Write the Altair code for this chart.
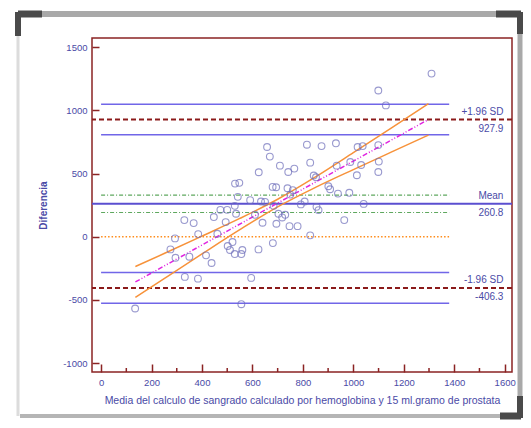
import altair as alt
import pandas as pd

# ---- data ----
pt_x = [1099, 1129, 1310, 658, 669, 816, 874, 931, 1017, 1037, 1099, 625, 709, 742, 766, 829,
        843, 852, 934, 988, 1031, 1014, 1101, 1099, 531, 548, 680, 694, 739, 760, 750, 901,
        908, 939, 984, 542, 591, 634, 650, 530, 684, 792, 807, 854, 862, 1041, 473, 500,
        535, 447, 330, 367, 494, 610, 703, 730, 964, 640, 695, 747, 779, 718, 293, 385,
        461, 829, 275, 295, 350, 416, 438, 521, 502, 511, 530, 560, 556, 624, 681, 332,
        384, 595, 556, 135]
pt_y = [1158, 1040, 1292, 711, 635, 729, 718, 740, 711, 718, 726, 511, 563, 513, 540, 587,
        485, 471, 563, 592, 568, 487, 595, 513, 421, 427, 395, 392, 384, 369, 334, 400,
        376, 342, 348, 316, 290, 279, 276, 245, 245, 256, 279, 237, 211, 260, 213, 213,
        182, 156, 132, 108, 116, 174, 182, 174, 132, 111, 103, 84, 84, 153, -13, 21,
        24, 11, -100, -166, -158, -147, -208, -42, -73, -105, -137, -105, -137, -100, -50, -318,
        -332, -326, -534, -568]

mean_val = 260.8
loa_vals = [927.9, -406.3]
mean_ci = [192, 330]
loa_ci = [808, 1050, -526, -284]
seg_start = 0
seg_end = 1380

reg_x = [136, 1298]
reg_y = [-358, 929]
ci_x = [136, 250, 400, 550, 700, 850, 1000, 1150, 1298]
ci_up = [-236, -133, 5, 145, 297, 474, 666, 861, 1054]
ci_lo = [-480, -331, -136, 56, 237, 391, 532, 670, 805]

x_ticks = [0, 200, 400, 600, 800, 1000, 1200, 1400, 1600]
x_minor = [100, 300, 500, 700, 900, 1100, 1300, 1500]
y_ticks = [-1000, -500, 0, 500, 1000, 1500]

labels_txt = ["+1.96 SD", "927.9", "Mean", "260.8", "-1.96 SD", "-406.3"]
labels_y = [927.9, 927.9, 260.8, 260.8, -406.3, -406.3]
labels_above = [True, False, True, False, True, False]

# ---- styling ----
W, H = 420, 334
FRAME = "#8b2323"
TXT = "#4a4aa6"
FONT = "Liberation Sans"

xs = alt.Scale(domain=[-36, 1629], nice=False, zero=False)
ys = alt.Scale(domain=[-1071, 1574], nice=False, zero=False)

x_axis = alt.Axis(values=x_ticks, title="Media del calculo de sangrado calculado por hemoglobina y 15 ml.gramo de prostata",
                  grid=False, domain=False, tickSize=8, offset=-8, tickColor=FRAME, tickWidth=1.5,
                  labelColor=TXT, labelFont=FONT, labelFontSize=9.5, labelPadding=5,
                  labelExpr="'' + datum.value",
                  titleColor=TXT, titleFont=FONT, titleFontSize=10.5, titleFontWeight="normal",
                  titlePadding=9)
y_axis = alt.Axis(values=y_ticks, title="Diferencia", grid=False, domain=False, tickSize=7, offset=-7,
                  tickColor=FRAME, tickWidth=1.5, labelColor=TXT, labelFont=FONT, labelFontSize=9.5,
                  labelPadding=5, labelExpr="'' + datum.value",
                  titleColor=TXT, titleFont=FONT, titleFontSize=10,
                  titleFontWeight="bold", titlePadding=14)

def X(f):
    return alt.X(f, scale=xs, axis=x_axis)

def Y(f):
    return alt.Y(f, scale=ys, axis=y_axis)

pts = pd.DataFrame({"x": pt_x, "y": pt_y})
points = alt.Chart(pts).mark_point(shape="circle", filled=False, size=46, color="#6f6fbb",
                                   strokeWidth=1.1).encode(x=X("x:Q"), y=Y("y:Q"))

minor = alt.Chart(pd.DataFrame({"x": x_minor})).mark_rule(color=FRAME, strokeWidth=1.5).encode(
    x=X("x:Q"), y=alt.value(H), y2=alt.value(H - 4))

def seg_df(vals):
    return pd.DataFrame({"y": vals, "x": [seg_start] * len(vals), "x2": [seg_end] * len(vals)})

def seg_layer(vals, color, width, dash=None):
    kw = dict(color=color, strokeWidth=width)
    if dash:
        kw["strokeDash"] = dash
    return alt.Chart(seg_df(vals)).mark_rule(**kw).encode(x=X("x:Q"), x2="x2:Q", y=Y("y:Q"))

loa_ci_l = seg_layer(loa_ci, "#7166e8", 1.5)
mean_ci_l = seg_layer(mean_ci, "#5fa85f", 1.2, [4, 2, 1, 2])
zero_l = seg_layer([0], "#ff8c1a", 1.5, [1.5, 2])

full_mean = alt.Chart(pd.DataFrame({"y": [mean_val]})).mark_rule(color="#5b4fd0", strokeWidth=2).encode(
    y=Y("y:Q"))
full_loa = alt.Chart(pd.DataFrame({"y": loa_vals})).mark_rule(color="#8b1a1a", strokeWidth=2,
                                                               strokeDash=[5, 3]).encode(y=Y("y:Q"))

ci_df = pd.DataFrame({"x": ci_x, "up": ci_up, "lo": ci_lo})
ci_up_l = alt.Chart(ci_df).mark_line(color="#f7923a", strokeWidth=1.5, interpolate="monotone").encode(
    x=X("x:Q"), y=Y("up:Q"))
ci_lo_l = alt.Chart(ci_df).mark_line(color="#f7923a", strokeWidth=1.5, interpolate="monotone").encode(
    x=X("x:Q"), y=Y("lo:Q"))

reg_l = alt.Chart(pd.DataFrame({"x": reg_x, "y": reg_y})).mark_line(
    color="#e024e0", strokeWidth=1.5, strokeDash=[5, 2, 1, 2, 1, 2]).encode(x=X("x:Q"), y=Y("y:Q"))

lab = pd.DataFrame({"t": labels_txt, "y": labels_y, "above": labels_above, "x": [1595] * 6})
lab_above = alt.Chart(lab[lab["above"]]).mark_text(align="right", baseline="bottom", dy=-3,
                                                   font=FONT, fontSize=10, color=TXT).encode(
    x=X("x:Q"), y=Y("y:Q"), text="t:N")
lab_below = alt.Chart(lab[~lab["above"]]).mark_text(align="right", baseline="top", dy=4,
                                                    font=FONT, fontSize=10, color=TXT).encode(
    x=X("x:Q"), y=Y("y:Q"), text="t:N")

# decorative picture frame (pixel positions, outside the plot area)
def deco(x1, x2, y1, y2, color, width):
    return alt.Chart(pd.DataFrame({"d": [0]})).mark_rule(color=color, strokeWidth=width, clip=False).encode(
        x=alt.value(x1), x2=alt.value(x2), y=alt.value(y1), y2=alt.value(y2))

frame_layers = [
    deco(-72, W + 8, -24, -24, "#a9a9a9", 6),
    deco(W + 8, W + 8, -24, H + 44, "#a9a9a9", 5),
    deco(-72, W + 8, H + 44, H + 44, "#b5b5b5", 4),
    deco(-74, -74, -24, H + 44, "#dcdcdc", 3),
    deco(-74, -50, -24, -24, "#4a4a4a", 7),
    deco(-74, -74, -26, -2, "#4a4a4a", 6),
    deco(W - 16, W + 9, -24, -24, "#4a4a4a", 7),
    deco(W + 8, W + 8, -26, -4, "#4a4a4a", 6),
    deco(W - 12, W + 9, H + 44, H + 44, "#4a4a4a", 7),
    deco(W + 8, W + 8, H + 24, H + 46, "#4a4a4a", 6),
]

chart = alt.layer(
    *frame_layers,
    zero_l, mean_ci_l, loa_ci_l, full_mean, full_loa, ci_up_l, ci_lo_l, reg_l,
    points, minor, lab_above, lab_below
).properties(
    width=W, height=H,
    autosize=alt.AutoSizeParams(type="none"),
    padding={"left": 84, "top": 30, "right": 11, "bottom": 48},
    background="white",
).configure_view(stroke=FRAME, strokeWidth=1.5)

chart.save("out.html", embed_options={"renderer": "svg", "actions": False})
